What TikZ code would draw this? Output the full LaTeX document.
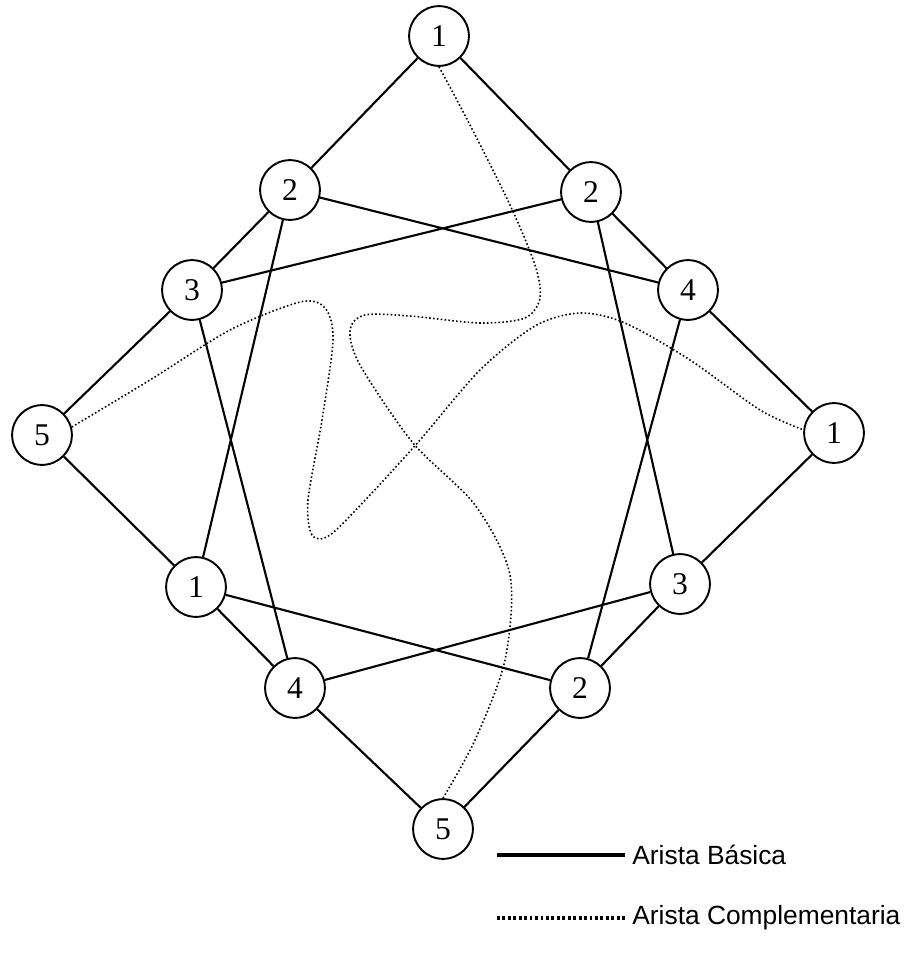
\documentclass[tikz,border=0pt]{standalone}
\usepackage{fontspec}
\setmainfont{Liberation Serif}
\newfontfamily\legendfont{Liberation Sans}
\begin{document}
\begin{tikzpicture}[x=0.02cm,y=-0.02cm,
  vtx/.style={circle,draw,line width=1.1pt,minimum size=34pt,inner sep=0pt,font=\fontsize{18}{20}\selectfont},
  basic/.style={line width=1.2pt},
  comp/.style={line width=0.9pt,dash pattern=on 0.9pt off 1.3pt},
  legcomp/.style={line width=2pt,dash pattern=on 1.6pt off 1.5pt},
  legtext/.style={anchor=west,inner sep=0pt,font=\legendfont\fontsize{15}{17}\selectfont}]
\useasboundingbox (0,0) rectangle (907,960);
\node[vtx] (t1) at (439,36) {1};
\node[vtx] (l2) at (290,190) {2};
\node[vtx] (r2) at (591,192) {2};
\node[vtx] (l3) at (192,290) {3};
\node[vtx] (r4) at (688,290) {4};
\node[vtx] (l5) at (42,435) {5};
\node[vtx] (r1) at (834,433) {1};
\node[vtx] (b1) at (196,587) {1};
\node[vtx] (r3) at (680,584) {3};
\node[vtx] (b4) at (295,688) {4};
\node[vtx] (b2) at (580,688) {2};
\node[vtx] (b5) at (443,829) {5};
\draw[basic] (t1)--(l2) (t1)--(r2)
  (l2)--(l3) (l2)--(r4) (l2)--(b1)
  (r2)--(l3) (r2)--(r4) (r2)--(r3)
  (l3)--(l5) (l3)--(b4)
  (r4)--(r1) (r4)--(b2)
  (l5)--(b1) (r1)--(r3)
  (b1)--(b4) (b1)--(b2)
  (r3)--(b4) (r3)--(b2)
  (b4)--(b5) (b2)--(b5);
\draw[comp] plot[smooth] coordinates {(t1.south) (470,125) (510,205) (535,265) (540,298) (525,318) (480,323) (410,316) (365,315) (350,330) (360,365) (413,443) (475,505) (510,575) (505,660) (475,740) (b5.north)};
\draw[comp] plot[smooth] coordinates {(l5.15) (150,380) (230,330) (300,302) (325,308) (333,340) (322,420) (308,500) (312,535) (330,535) (370,495) (420,440) (480,370) (535,326) (580,313) (625,323) (690,360) (760,410) (r1.174)};
\coordinate (la) at (497,855);
\coordinate (lb) at (625,855);
\coordinate (lc) at (497,918);
\coordinate (ld) at (625,918);
\draw[line width=1.8pt] (la)--(lb);
\node[legtext] (lt1) at ([xshift=4pt]lb) {Arista Básica};
\draw[legcomp] (lc)--(ld);
\node[legtext] (lt2) at ([xshift=4pt]ld) {Arista Complementaria};
\end{tikzpicture}
\end{document}
